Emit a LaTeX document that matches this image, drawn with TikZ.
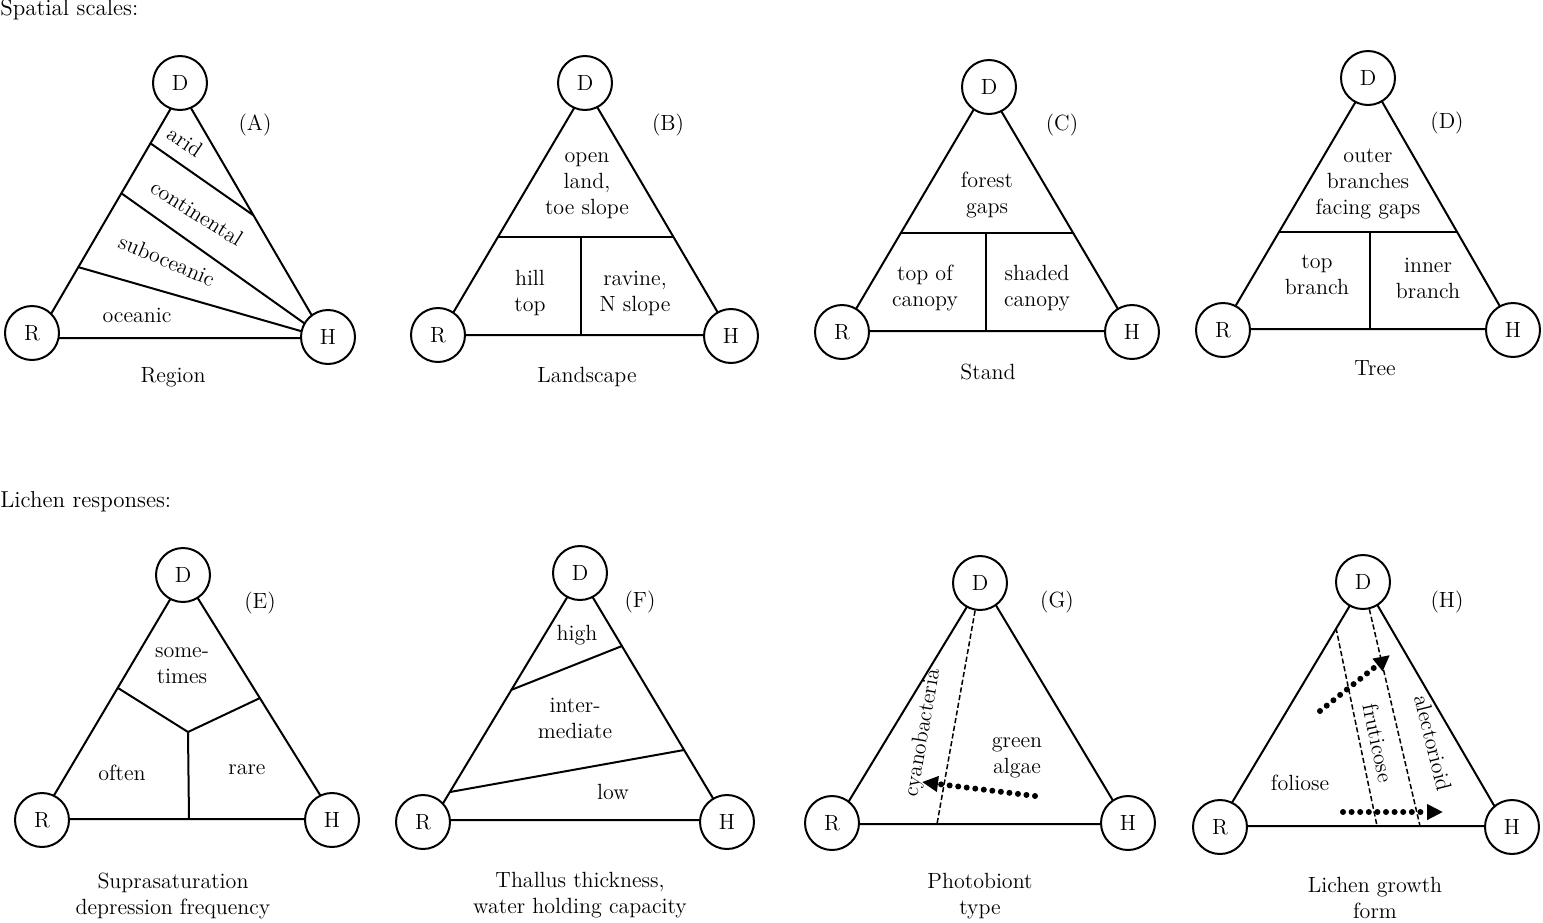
\documentclass[tikz,border=0pt]{standalone}
\usetikzlibrary{arrows.meta}
\begin{document}
\begin{tikzpicture}[x=0.5pt,y=-0.5pt,
  every node/.style={font=\fontsize{11}{13}\selectfont, inner sep=0pt, align=center},
  vtx/.style={circle, draw, fill=white, line width=1pt, minimum size=27pt, inner sep=0pt},
  side/.style={line width=1pt, line join=round},
  part/.style={line width=1pt},
  dashln/.style={line width=0.75pt, dash pattern=on 2.6pt off 1.3pt},
  dotarrow/.style={line width=3pt, line cap=round, dash pattern=on 0pt off 4.3pt, -{Triangle[length=8pt,width=7.5pt]}},
  hdr/.style={anchor=base west, font=\fontsize{11.5}{13}\selectfont},
]
\path[use as bounding box] (0,0) rectangle (1543,922);

% headers
\node[hdr] (h1) at (0,15) {Spatial scales:};
\node[hdr] (h2) at (0,507) {Lichen responses:};

% ---------------- Panel A ----------------
\coordinate (aV1) at (181,91); \coordinate (aV2) at (37,338); \coordinate (aV3) at (325,338);
\draw[side] (aV1) -- (aV2) -- (aV3) -- cycle;
\coordinate (a1) at (150,143); \coordinate (a2) at (253,215);
\coordinate (a3) at (121,193); \coordinate (a4) at (78,267);
\draw[part] (a1) -- (a2);
\draw[part] (a3) -- (aV3);
\draw[part] (a4) -- (aV3);
\node[vtx] (aD) at (180,83) {D};
\node[vtx] (aR) at (32,333) {R};
\node[vtx] (aH) at (328,337) {H};
\node[rotate=-34] (aT1) at (185,142) {arid};
\node[rotate=-32] (aT2) at (197,213) {continental};
\node[rotate=-23] (aT3) at (167,260) {suboceanic};
\node (aT4) at (137,315) {oceanic};
\node (aL) at (255,125) {(A)};
\node (aC) at (173,377) {Region};

% ---------------- Panel B ----------------
\coordinate (bV1) at (586,88); \coordinate (bV2) at (440,335); \coordinate (bV3) at (731,335);
\draw[side] (bV1) -- (bV2) -- (bV3) -- cycle;
\coordinate (b1) at (498,237); \coordinate (b2) at (673,237);
\coordinate (b3) at (581,237); \coordinate (b4) at (581,335);
\draw[part] (b1) -- (b2);
\draw[part] (b3) -- (b4);
\node[vtx] (bD) at (585,83) {D};
\node[vtx] (bR) at (438,335) {R};
\node[vtx] (bH) at (731,336) {H};
\node (bT1) at (587,186) {open\\land,\\toe slope};
\node (bT2) at (530,293) {hill\\top};
\node (bT3) at (635,293) {ravine,\\N slope};
\node (bL) at (668,125) {(B)};
\node (bC) at (587,377) {Landscape};

% ---------------- Panel C ----------------
\coordinate (cV1) at (987,87); \coordinate (cV2) at (843,331); \coordinate (cV3) at (1131,331);
\draw[side] (cV1) -- (cV2) -- (cV3) -- cycle;
\coordinate (c1) at (901,233); \coordinate (c2) at (1073,233);
\coordinate (c3) at (986,233); \coordinate (c4) at (986,331);
\draw[part] (c1) -- (c2);
\draw[part] (c3) -- (c4);
\node[vtx] (cD) at (989,87) {D};
\node[vtx] (cR) at (842,332) {R};
\node[vtx] (cH) at (1132,332) {H};
\node (cT1) at (987,195) {forest\\gaps};
\node (cT2) at (925,288) {top of\\canopy};
\node (cT3) at (1037,288) {shaded\\canopy};
\node (cL) at (1062,125) {(C)};
\node (cC) at (988,372) {Stand};

% ---------------- Panel D ----------------
\coordinate (dV1) at (1369,79); \coordinate (dV2) at (1222,329); \coordinate (dV3) at (1513,329);
\draw[side] (dV1) -- (dV2) -- (dV3) -- cycle;
\coordinate (d1) at (1280,232); \coordinate (d2) at (1457,232);
\coordinate (d3) at (1370,232); \coordinate (d4) at (1370,329);
\draw[part] (d1) -- (d2);
\draw[part] (d3) -- (d4);
\node[vtx] (dD) at (1368,78) {D};
\node[vtx] (dR) at (1223,330) {R};
\node[vtx] (dH) at (1513,330) {H};
\node (dT1) at (1368,184) {outer\\branches\\facing gaps};
\node (dT2) at (1317,275) {top\\branch};
\node (dT3) at (1428,278) {inner\\branch};
\node (dL) at (1447,123) {(D)};
\node (dC) at (1375,368) {Tree};

% ---------------- Panel E ----------------
\coordinate (eV1) at (184,576); \coordinate (eV2) at (40,819); \coordinate (eV3) at (335,819);
\draw[side] (eV1) -- (eV2) -- (eV3) -- cycle;
\coordinate (e1) at (118,688); \coordinate (e2) at (188,732);
\coordinate (e3) at (260,698); \coordinate (e4) at (189,819);
\draw[part] (e1) -- (e2) -- (e3);
\draw[part] (e2) -- (e4);
\node[vtx] (eD) at (183,575) {D};
\node[vtx] (eR) at (42,820) {R};
\node[vtx] (eH) at (332,820) {H};
\node (eT1) at (182,666) {some-\\times};
\node (eT2) at (122,773) {often};
\node (eT3) at (247,770) {rare};
\node (eL) at (260,603) {(E)};
\node (eC) at (173,896) {Suprasaturation\\depression frequency};

% ---------------- Panel F ----------------
\coordinate (fV1) at (580,576); \coordinate (fV2) at (433,820); \coordinate (fV3) at (726,820);
\draw[side] (fV1) -- (fV2) -- (fV3) -- cycle;
\coordinate (f1) at (511,690); \coordinate (f2) at (622,646);
\coordinate (f3) at (450,792); \coordinate (f4) at (684,750);
\draw[part] (f1) -- (f2);
\draw[part] (f3) -- (f4);
\node[vtx] (fD) at (580,573) {D};
\node[vtx] (fR) at (423,822) {R};
\node[vtx] (fH) at (727,822) {H};
\node (fT1) at (577,635) {high};
\node (fT2) at (575,718) {inter-\\mediate};
\node (fT3) at (613,792) {low};
\node (fL) at (640,602) {(F)};
\node (fC) at (580,895) {Thallus thickness,\\water holding capacity};

% ---------------- Panel G ----------------
\coordinate (gV1) at (982,582); \coordinate (gV2) at (835,824); \coordinate (gV3) at (1127,824);
\draw[side] (gV1) -- (gV2) -- (gV3) -- cycle;
\node[vtx] (gD) at (980,583) {D};
\node[vtx] (gR) at (832,823) {R};
\node[vtx] (gH) at (1128,823) {H};
\coordinate (gX) at (937,824);
\draw[dashln] (gD) -- (gX);
\node[rotate=80] (gT1) at (923,733) {cyanobacteria};
\node (gT2) at (1017,758) {green\\algae};
\node (gL) at (1057,602) {(G)};
\node (gC) at (980,896) {Photobiont\\type};
\coordinate (gA1) at (1035,796); \coordinate (gA2) at (922,782);
\draw[dotarrow] (gA1) -- (gA2);

% ---------------- Panel H ----------------
\coordinate (hV1) at (1364,582); \coordinate (hV2) at (1218,826); \coordinate (hV3) at (1506,826);
\draw[side] (hV1) -- (hV2) -- (hV3) -- cycle;
\node[vtx] (hD) at (1363,582) {D};
\node[vtx] (hR) at (1220,827) {R};
\node[vtx] (hH) at (1512,827) {H};
\coordinate (h1) at (1336,628); \coordinate (h2) at (1377,826);
\coordinate (h3) at (1420,826);
\draw[dashln] (h1) -- (h2);
\draw[dashln] (hD) -- (h3);
\node[rotate=-78] (hT1) at (1378,743) {fruticose};
\node[rotate=-76] (hT2) at (1433,743) {alectorioid};
\node (hT3) at (1300,783) {foliose};
\node (hL) at (1447,602) {(H)};
\node (hC) at (1375,898) {Lichen growth\\form};
\coordinate (hA1) at (1320,711); \coordinate (hA2) at (1390,655);
\coordinate (hA3) at (1343,812); \coordinate (hA4) at (1443,812);
\draw[dotarrow] (hA1) -- (hA2);
\draw[dotarrow] (hA3) -- (hA4);
\end{tikzpicture}
\end{document}
